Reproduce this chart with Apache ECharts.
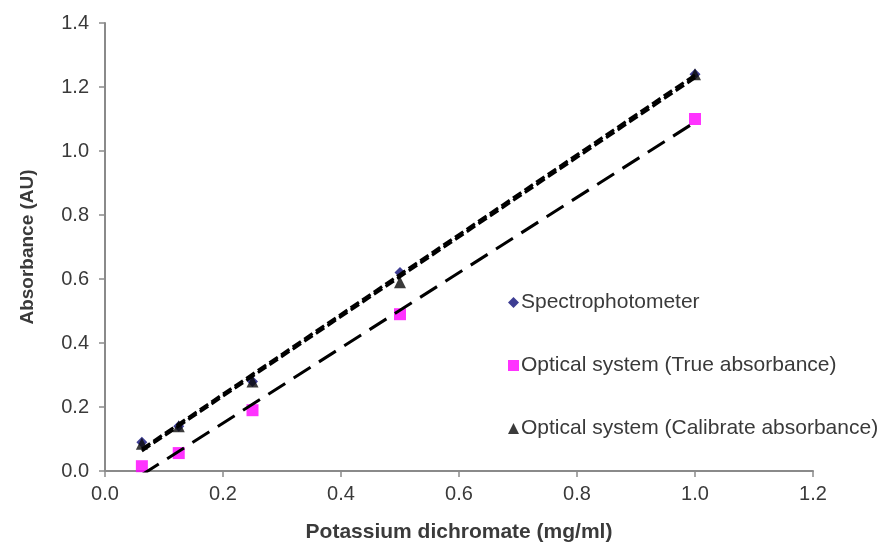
<!DOCTYPE html>
<html>
<head>
<meta charset="utf-8">
<script src="https://cdn.jsdelivr.net/npm/echarts@6/dist/echarts.min.js"></script>
<style>
  html, body { margin: 0; padding: 0; background: #ffffff; }
  #chart { width: 890px; height: 545px; }
</style>
</head>
<body>
<div id="chart"></div>
<script>
// Concentrations of potassium dichromate (mg/ml)
const concentrations = [0.0625, 0.125, 0.25, 0.5, 1.0];

// Absorbance readings (AU)
const spectrophotometer = [0.09, 0.14, 0.28, 0.62, 1.24];
const opticalTrue = [0.015, 0.056, 0.19, 0.49, 1.10];
const opticalCalibrated = [0.085, 0.14, 0.28, 0.59, 1.24];

const seriesNames = [
  'Spectrophotometer',
  'Optical system (True absorbance)',
  'Optical system (Calibrate absorbance)'
];

const xTicks = [0, 0.2, 0.4, 0.6, 0.8, 1.0, 1.2];
const yTicks = [0, 0.2, 0.4, 0.6, 0.8, 1.0, 1.2, 1.4];

// Least-squares linear trend line across the measured range
function trendLine(xs, ys) {
  const n = xs.length;
  const mx = xs.reduce((a, b) => a + b, 0) / n;
  const my = ys.reduce((a, b) => a + b, 0) / n;
  let sxy = 0, sxx = 0;
  for (let i = 0; i < n; i++) {
    sxy += (xs[i] - mx) * (ys[i] - my);
    sxx += (xs[i] - mx) * (xs[i] - mx);
  }
  const slope = sxy / sxx;
  const icpt = my - slope * mx;
  const x0 = Math.min(...xs), x1 = Math.max(...xs);
  return [[x0, slope * x0 + icpt], [x1, slope * x1 + icpt]];
}

const pairs = ys => concentrations.map((x, i) => [x, ys[i]]);

const axisGrey = '#8a8a8a';
const textGrey = '#3a3a3a';
const font = 'Liberation Sans, Arial, sans-serif';

const chart = echarts.init(document.getElementById('chart'), null, { renderer: 'canvas' });

chart.setOption({
  backgroundColor: '#ffffff',
  animation: false,
  grid: { left: 105, right: 77, top: 23, bottom: 74, outerBoundsMode: 'none' },
  legend: {
    orient: 'vertical',
    left: 503,
    top: 287,
    itemGap: 42,
    itemWidth: 11,
    itemHeight: 11,
    data: [
      { name: seriesNames[0], icon: 'diamond' },
      { name: seriesNames[1], icon: 'rect' },
      { name: seriesNames[2], icon: 'triangle' }
    ],
    textStyle: { fontFamily: font, fontSize: 21, color: textGrey, padding: [0, 0, 0, -3] }
  },
  xAxis: {
    type: 'value',
    min: xTicks[0],
    max: xTicks[xTicks.length - 1],
    interval: 0.2,
    name: 'Potassium dichromate (mg/ml)',
    nameLocation: 'middle',
    nameGap: 51,
    nameTextStyle: { fontFamily: font, fontSize: 21, fontWeight: 'bold', color: textGrey },
    axisLine: { lineStyle: { color: axisGrey, width: 2 } },
    axisTick: { show: true, inside: false, length: 6, lineStyle: { color: axisGrey, width: 1.5 } },
    axisLabel: { fontFamily: font, fontSize: 20, color: textGrey, margin: 13,
      formatter: v => v.toFixed(1) },
    splitLine: { show: false }
  },
  yAxis: {
    type: 'value',
    min: yTicks[0],
    max: yTicks[yTicks.length - 1],
    interval: 0.2,
    name: 'Absorbance (AU)',
    nameLocation: 'middle',
    nameGap: 68,
    nameTextStyle: { fontFamily: font, fontSize: 19, fontWeight: 'bold', color: textGrey },
    axisLine: { show: true, lineStyle: { color: axisGrey, width: 2 } },
    axisTick: { show: true, inside: false, length: 6, lineStyle: { color: axisGrey, width: 1.5 } },
    axisLabel: { fontFamily: font, fontSize: 20, color: textGrey, margin: 16,
      formatter: v => v.toFixed(1) },
    splitLine: { show: false }
  },
  series: [
    {
      name: seriesNames[0],
      type: 'scatter',
      symbol: 'diamond',
      symbolSize: 11,
      itemStyle: { color: '#0c0c78' },
      data: pairs(spectrophotometer),
      z: 3
    },
    {
      name: seriesNames[1],
      type: 'scatter',
      symbol: 'rect',
      symbolSize: 12,
      itemStyle: { color: '#ff00ff' },
      data: pairs(opticalTrue),
      z: 3
    },
    {
      name: seriesNames[2],
      type: 'scatter',
      symbol: 'triangle',
      symbolSize: 12,
      itemStyle: { color: '#0a0a0a' },
      data: pairs(opticalCalibrated),
      z: 4
    },
    // Linear trend lines
    {
      name: 'trend-spectro',
      type: 'line',
      showSymbol: false,
      silent: true,
      clip: true,
      lineStyle: { color: '#000000', width: 3, type: [10, 4] },
      data: trendLine(concentrations, spectrophotometer),
      z: 5
    },
    {
      name: 'trend-true',
      type: 'line',
      showSymbol: false,
      silent: true,
      clip: true,
      lineStyle: { color: '#000000', width: 3, type: [20, 10] },
      data: trendLine(concentrations, opticalTrue),
      z: 5
    },
    {
      name: 'trend-calibrated',
      type: 'line',
      showSymbol: false,
      silent: true,
      clip: true,
      lineStyle: { color: '#000000', width: 3, type: [10, 4] },
      data: trendLine(concentrations, opticalCalibrated),
      z: 5
    }
  ]
});
</script>
</body>
</html>
